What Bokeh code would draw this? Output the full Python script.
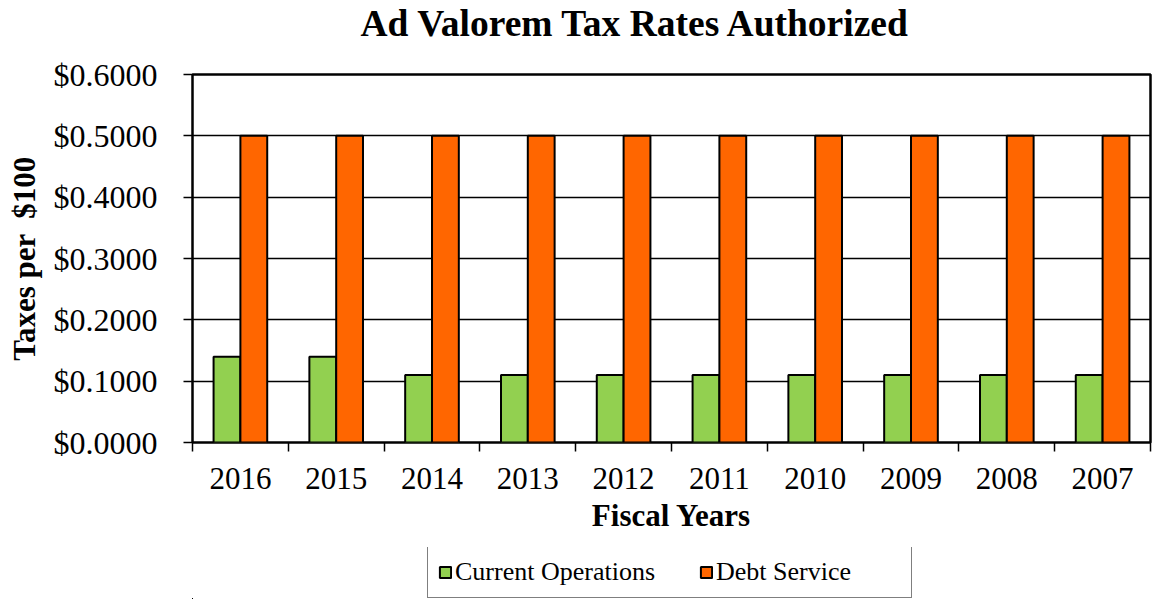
from bokeh.plotting import figure
from bokeh.models import (FixedTicker, NumeralTickFormatter, Legend, LegendItem,
                          ColumnDataSource, Range1d, Title)
from bokeh.layouts import column
from bokeh.transform import dodge
from bokeh.embed import file_html
from bokeh.resources import INLINE

years = ["2016", "2015", "2014", "2013", "2012", "2011", "2010", "2009", "2008", "2007"]
current_operations = [0.14, 0.14, 0.11, 0.11, 0.11, 0.11, 0.11, 0.11, 0.11, 0.11]
debt_service = [0.50, 0.50, 0.50, 0.50, 0.50, 0.50, 0.50, 0.50, 0.50, 0.50]
y_ticks = [0.0, 0.1, 0.2, 0.3, 0.4, 0.5, 0.6]
series_names = ["Current Operations", "Debt Service"]

FONT = "Liberation Serif"
GREEN = "#92D050"
ORANGE = "#FF6600"

n = len(years)
pos = [i + 0.5 for i in range(n)]
src = ColumnDataSource(dict(x=pos, year=years, cur=current_operations, debt=debt_service))

p = figure(output_backend="svg", toolbar_location=None,
           frame_width=958, frame_height=368,
           x_range=Range1d(0, n), y_range=Range1d(0, 0.6),
           min_border_left=192, min_border_right=2, min_border_top=73,
           min_border_bottom=105)

p.title.text = "Ad Valorem Tax Rates Authorized"
p.title.text_font = FONT
p.title.text_font_size = "37.5px"
p.title.text_font_style = "bold"
p.title.text_color = "black"
p.title.align = "left"
p.title.offset = 168
p.title.standoff = 0

# spacer title (sits nearest the frame) to lift the real title
spacer = Title(text=" ", text_font_size="10px", standoff=18)
p.add_layout(spacer, "above")

p.vbar(x=dodge("x", -0.14, range=p.x_range), top="cur", width=0.28, source=src,
       fill_color=GREEN, line_color="black", line_width=2)
p.vbar(x=dodge("x", 0.14, range=p.x_range), top="debt", width=0.28, source=src,
       fill_color=ORANGE, line_color="black", line_width=2)

# axes
xa = p.xaxis[0]
xa.ticker = FixedTicker(ticks=pos, minor_ticks=list(range(n + 1)))
xa.major_label_overrides = {pos[i]: years[i] for i in range(n)}
xa.major_tick_line_color = None
xa.minor_tick_line_color = "black"
xa.minor_tick_line_width = 1.5
xa.minor_tick_out = 9
xa.minor_tick_in = 0
xa.axis_line_color = None
xa.major_label_text_font = FONT
xa.major_label_text_font_size = "31px"
xa.major_label_text_color = "black"
xa.major_label_standoff = 16
xa.axis_label = "Fiscal Years"
xa.axis_label_text_font = FONT
xa.axis_label_text_font_size = "31px"
xa.axis_label_text_font_style = "bold"
xa.axis_label_text_color = "black"
xa.axis_label_standoff = 6

ya = p.yaxis[0]
ya.ticker = FixedTicker(ticks=y_ticks)
ya.formatter = NumeralTickFormatter(format="$0.0000")
ya.axis_line_color = None
ya.major_tick_line_color = "black"
ya.major_tick_line_width = 1.5
ya.major_tick_out = 9
ya.major_tick_in = 0
ya.minor_tick_line_color = None
ya.major_label_text_font = FONT
ya.major_label_text_font_size = "32px"
ya.major_label_text_color = "black"
ya.major_label_standoff = 26
ya.axis_label = "Taxes per \u00a0$100"
ya.axis_label_text_font = FONT
ya.axis_label_text_font_size = "31px"
ya.axis_label_text_font_style = "bold"
ya.axis_label_text_color = "black"
ya.axis_label_standoff = 9

p.xgrid.grid_line_color = None
p.ygrid.grid_line_color = "black"
p.ygrid.grid_line_width = 1.5
p.ygrid.ticker = FixedTicker(ticks=y_ticks)

p.outline_line_color = "black"
p.outline_line_width = 2.5
p.background_fill_color = "white"
p.border_fill_color = "white"

# legend strip below the chart, frame aligned with the main chart's frame
lg = figure(output_backend="svg", toolbar_location=None,
            frame_width=958, frame_height=52,
            x_range=Range1d(100, 110), y_range=Range1d(10, 11),
            x_axis_location=None, y_axis_location=None,
            min_border_left=192, min_border_right=2, min_border_top=0,
            min_border_bottom=1)
lg.xgrid.grid_line_color = None
lg.ygrid.grid_line_color = None
lg.outline_line_color = None
lg.border_fill_color = "white"
lg.background_fill_color = "white"

g1 = lg.vbar(x="x", top="cur", width=0.28, source=src,
             fill_color=GREEN, line_color="black", line_width=2)
g2 = lg.vbar(x="x", top="debt", width=0.28, source=src,
             fill_color=ORANGE, line_color="black", line_width=2)

legend = Legend(items=[LegendItem(label=series_names[0], renderers=[g1]),
                       LegendItem(label=series_names[1], renderers=[g2])],
                orientation="horizontal", location=(235, 1),
                label_text_font=FONT, label_text_font_size="26px",
                label_text_color="black",
                label_standoff=3, label_width=185, spacing=44, padding=10, margin=0,
                glyph_width=14, glyph_height=14,
                border_line_color="black", border_line_width=1,
                background_fill_color="white", background_fill_alpha=1.0)
lg.add_layout(legend, "center")

layout = column(p, lg)
open("out.html", "w").write(file_html(layout, INLINE))
